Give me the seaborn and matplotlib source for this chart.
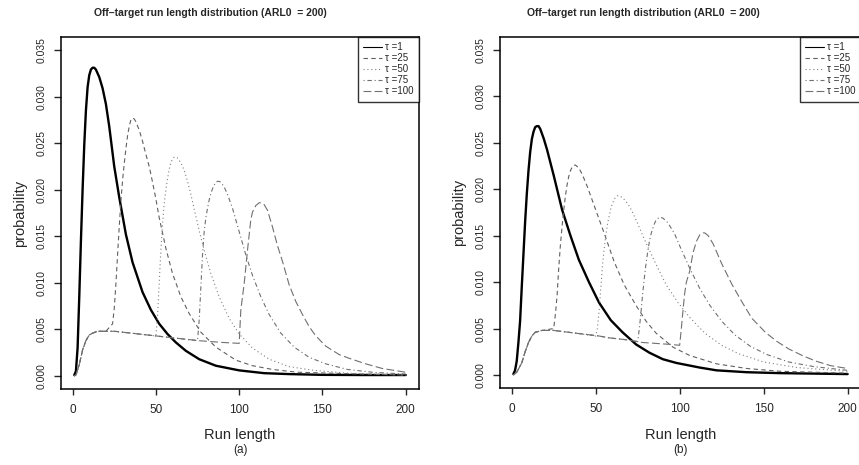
import numpy as np
import pandas as pd
import matplotlib
matplotlib.use("Agg")
import matplotlib.pyplot as plt
import seaborn as sns

# ---------------- data ----------------
taus = [1, 25, 50, 75, 100]
legend_labels = ["\u03c4 =1", "\u03c4 =25", "\u03c4 =50", "\u03c4 =75", "\u03c4 =100"]

# panel (a): in-control (pre-change) part shared by tau >= 25
a_pre_x = [1, 2, 4, 6, 8, 10, 12, 15, 20, 25, 30, 40, 50, 60, 75, 90, 100]
a_pre_y = [0.0, 0.0001, 0.0012, 0.0028, 0.0038, 0.0044, 0.0046, 0.0048, 0.0048,
           0.0048, 0.0047, 0.0045, 0.0043, 0.0041, 0.0038, 0.0036, 0.0035]

a1_x = [1, 2, 3, 4, 5, 6, 7, 8, 9, 10, 11, 12, 13, 14, 16, 18, 20, 22, 25, 28, 32, 36,
        42, 47, 52, 57, 62, 68, 76, 86, 100, 115, 130, 150, 175, 200]
a1_y = [0.0001, 0.0005, 0.003, 0.0085, 0.0145, 0.020, 0.0248, 0.0285, 0.031, 0.0323,
        0.0329, 0.0331, 0.0331, 0.0329, 0.0321, 0.0309, 0.0292, 0.0268, 0.0225, 0.0192,
        0.0152, 0.0122, 0.0090, 0.0071, 0.0056, 0.0045, 0.0036, 0.0027, 0.0018, 0.0011,
        0.0006, 0.0003, 0.0002, 0.00012, 0.0001, 0.0001]

a25_x = [24, 25, 26, 27, 28, 29, 30, 31, 32, 33, 34, 35, 36, 37, 38, 40, 42, 44, 46, 48,
         50, 52, 56, 60, 65, 70, 77, 86, 98, 108, 120, 135, 155, 175, 200]
a25_y = [0.0056, 0.0072, 0.0099, 0.013, 0.016, 0.0188, 0.021, 0.0228, 0.0244, 0.0258,
         0.0268, 0.0275, 0.0277, 0.0276, 0.0273, 0.0264, 0.0252, 0.0238, 0.0225, 0.0208,
         0.0190, 0.0170, 0.0137, 0.0110, 0.0085, 0.0067, 0.0047, 0.0031, 0.0017, 0.0011,
         0.0007, 0.0004, 0.0003, 0.0002, 0.0001]

a50_x = [50, 51, 52, 53, 54, 55, 56, 57, 58, 59, 60, 61, 62, 63, 65, 67, 69, 71, 73, 76,
         79, 83, 88, 94, 100, 108, 118, 130, 145, 165, 200]
a50_y = [0.0043, 0.0065, 0.0100, 0.0135, 0.0163, 0.0185, 0.0200, 0.0212, 0.0222, 0.0229,
         0.0233, 0.0235, 0.0235, 0.0234, 0.0229, 0.0221, 0.0209, 0.0195, 0.0179, 0.0156,
         0.0135, 0.0110, 0.0085, 0.0062, 0.0045, 0.0030, 0.0018, 0.0010, 0.0006, 0.0003,
         0.0001]

a75_x = [75, 76, 77, 78, 79, 80, 81, 82, 83, 84, 85, 86, 87, 88, 89, 91, 93, 96, 100, 104,
         108, 113, 118, 125, 133, 142, 152, 165, 180, 200]
a75_y = [0.0038, 0.0060, 0.0095, 0.0130, 0.0155, 0.0170, 0.0180, 0.0189, 0.0196, 0.0201,
         0.0205, 0.0208, 0.0209, 0.0209, 0.0208, 0.0203, 0.0195, 0.0180, 0.0155, 0.0130,
         0.0108, 0.0085, 0.0066, 0.0046, 0.0031, 0.0020, 0.0013, 0.0007, 0.0004, 0.0002]

a100_x = [100, 101, 103, 105, 107, 108, 110, 112, 113, 115, 117, 120, 123, 126, 130, 134,
          138, 142, 146, 152, 160, 166, 176, 186, 200]
a100_y = [0.0035, 0.0071, 0.0099, 0.0135, 0.0168, 0.0176, 0.0183, 0.0186, 0.0186, 0.0184,
          0.0178, 0.0160, 0.0140, 0.0123, 0.0098, 0.0080, 0.0066, 0.0053, 0.0043, 0.0032,
          0.0023, 0.0019, 0.0013, 0.0008, 0.0004]

# panel (b)
b_pre_x = [1, 3, 6, 8, 10, 12, 14, 18, 25, 34, 52, 58, 68, 78, 94, 100]
b_pre_y = [0.0, 0.0003, 0.0013, 0.0025, 0.0035, 0.0042, 0.0046, 0.0048, 0.0048, 0.0046,
           0.0042, 0.0040, 0.0038, 0.0035, 0.0033, 0.0032]

b1_x = [1, 2, 3, 4, 5, 6, 7, 8, 9, 10, 11, 12, 13, 14, 15, 16, 17, 19, 21, 25, 30, 35,
        40, 46, 52, 59, 66, 74, 82, 90, 98, 112, 122, 140, 160, 200]
b1_y = [0.0001, 0.0005, 0.0015, 0.0035, 0.0058, 0.0095, 0.013, 0.0165, 0.0195, 0.022,
        0.024, 0.0254, 0.0262, 0.0267, 0.0268, 0.0268, 0.0265, 0.0255, 0.0243, 0.0215,
        0.0178, 0.0150, 0.0124, 0.0100, 0.0078, 0.0059, 0.0046, 0.0033, 0.0024, 0.0017,
        0.0013, 0.0008, 0.0005, 0.0003, 0.0002, 0.0001]

b25_x = [25, 26, 27, 28, 29, 30, 31, 32, 33, 34, 35, 36, 37, 38, 40, 42, 45, 50, 55, 61,
         67, 74, 80, 86, 96, 106, 122, 140, 160, 180, 200]
b25_y = [0.0050, 0.0065, 0.0085, 0.0115, 0.0140, 0.0160, 0.0178, 0.0193, 0.0205, 0.0214,
         0.0220, 0.0224, 0.0226, 0.0226, 0.0223, 0.0216, 0.0203, 0.0178, 0.0153, 0.0122,
         0.0097, 0.0075, 0.0058, 0.0045, 0.0030, 0.0021, 0.0012, 0.0007, 0.0004, 0.0003,
         0.0002]

b50_x = [50, 51, 52, 53, 54, 55, 56, 57, 58, 59, 60, 61, 62, 63, 64, 66, 68, 70, 72, 75,
         80, 86, 92, 99, 106, 115, 125, 135, 150, 170, 200]
b50_y = [0.0042, 0.0050, 0.0068, 0.0092, 0.0117, 0.0135, 0.0150, 0.0162, 0.0171, 0.0179,
         0.0185, 0.0189, 0.0192, 0.0193, 0.0193, 0.0191, 0.0187, 0.0182, 0.0175, 0.0163,
         0.0142, 0.0119, 0.0097, 0.0078, 0.0062, 0.0045, 0.0032, 0.0023, 0.0014, 0.0008,
         0.0004]

b75_x = [75, 76, 77, 78, 79, 80, 81, 82, 83, 84, 85, 86, 88, 90, 93, 97, 101, 106, 112,
         118, 125, 133, 142, 152, 165, 180, 200]
b75_y = [0.0036, 0.0050, 0.0068, 0.0088, 0.0105, 0.0120, 0.0133, 0.0144, 0.0152, 0.0158,
         0.0163, 0.0167, 0.0170, 0.0169, 0.0164, 0.0152, 0.0135, 0.0115, 0.0093, 0.0075,
         0.0058, 0.0043, 0.0031, 0.0022, 0.0014, 0.0009, 0.0005]

b100_x = [100, 101, 102, 103, 104, 106, 108, 110, 112, 114, 115, 117, 120, 125, 131, 137,
          143, 151, 158, 165, 173, 181, 190, 200]
b100_y = [0.0032, 0.0050, 0.0070, 0.0088, 0.0100, 0.0112, 0.0132, 0.0144, 0.0151, 0.0153,
          0.0153, 0.0150, 0.0141, 0.0120, 0.0098, 0.0079, 0.0061, 0.0046, 0.0036, 0.0028,
          0.0021, 0.0015, 0.0010, 0.0007]

panels = [
    dict(pre=(a_pre_x, a_pre_y),
         post=[(a1_x, a1_y), (a25_x, a25_y), (a50_x, a50_y), (a75_x, a75_y), (a100_x, a100_y)],
         tag="(a)"),
    dict(pre=(b_pre_x, b_pre_y),
         post=[(b1_x, b1_y), (b25_x, b25_y), (b50_x, b50_y), (b75_x, b75_y), (b100_x, b100_y)],
         tag="(b)"),
]

# ---------------- style ----------------
sns.set_theme(style="white")
plt.rcParams["font.family"] = ["Liberation Sans", "DejaVu Sans"]
plt.rcParams["axes.linewidth"] = 1.1

W, H = 859, 465
fig = plt.figure(figsize=(W / 100, H / 100), dpi=100)

styles = [
    dict(color="black", lw=1.7, ls="-"),
    dict(color="#606060", lw=0.8, ls=(0, (4, 3))),
    dict(color="#808080", lw=0.8, ls=(0, (1, 2.5))),
    dict(color="#707070", lw=0.8, ls=(0, (1, 2.5, 4, 2.5))),
    dict(color="#707070", lw=0.8, ls=(0, (7, 3))),
]

# axes boxes in pixels: (left, top, right, bottom)
boxes = [(61, 37, 419, 389), (500, 37, 861, 388)]
title_cx = [210, 643]

for k, (panel, box) in enumerate(zip(panels, boxes)):
    l, t, r, b = box
    ax = fig.add_axes([l / W, 1 - b / H, (r - l) / W, (b - t) / H])
    pre_x, pre_y = panel["pre"]
    for i, (tau, (px, py)) in enumerate(zip(taus, panel["post"])):
        xs = [x for x in pre_x if x < px[0]] if tau > 1 else []
        ys = [y for x, y in zip(pre_x, pre_y) if x < px[0]] if tau > 1 else []
        df = pd.DataFrame({"run": xs + list(px), "prob": ys + list(py)})
        st = styles[i]
        sns.lineplot(data=df, x="run", y="prob", ax=ax, estimator=None, sort=False,
                     color=st["color"], linewidth=st["lw"], linestyle=st["ls"],
                     label=legend_labels[i])
    ax.set_xlim(-6.96, 207.96)
    ax.set_ylim(-0.0014, 0.0364)
    ax.set_xticks([0, 50, 100, 150, 200])
    yt = [0.0, 0.005, 0.010, 0.015, 0.020, 0.025, 0.030, 0.035]
    ax.set_yticks(yt)
    ax.set_yticklabels([f"{v:.3f}" for v in yt], rotation=90, va="center", fontsize=7.5)
    ax.tick_params(axis="x", labelsize=8.5, length=4, width=1, direction="out", pad=7,
                   bottom=True)
    ax.tick_params(axis="y", length=5, width=1, direction="out", pad=5, left=True)
    for s in ax.spines.values():
        s.set_color("black")
        s.set_linewidth(1.1)
    ax.set_xlabel("")
    ax.set_ylabel("probability", fontsize=10.5, labelpad=7)
    cx = ((l + r) / 2) / W
    fig.text(cx, 1 - 435 / H, "Run length", ha="center", va="center", fontsize=10.5)
    fig.text(cx, 1 - 450 / H, panel["tag"], ha="center", va="center", fontsize=8.5)
    fig.text(title_cx[k] / W, 1 - 13 / H,
             "Off\u2013target run length distribution (ARL0  = 200)",
             ha="center", va="center", fontsize=7.5, fontweight="bold")
    leg = ax.legend(loc="upper right", bbox_to_anchor=(1, 1), borderaxespad=0,
                    fontsize=7, frameon=True, fancybox=False, handlelength=1.9,
                    handletextpad=0.35, labelspacing=0.1, borderpad=0.55)
    leg.get_frame().set_edgecolor("black")
    leg.get_frame().set_linewidth(1.0)
    for ln in leg.get_lines():
        ln.set_linewidth(0.8)

fig.savefig("out.png", dpi=100)
